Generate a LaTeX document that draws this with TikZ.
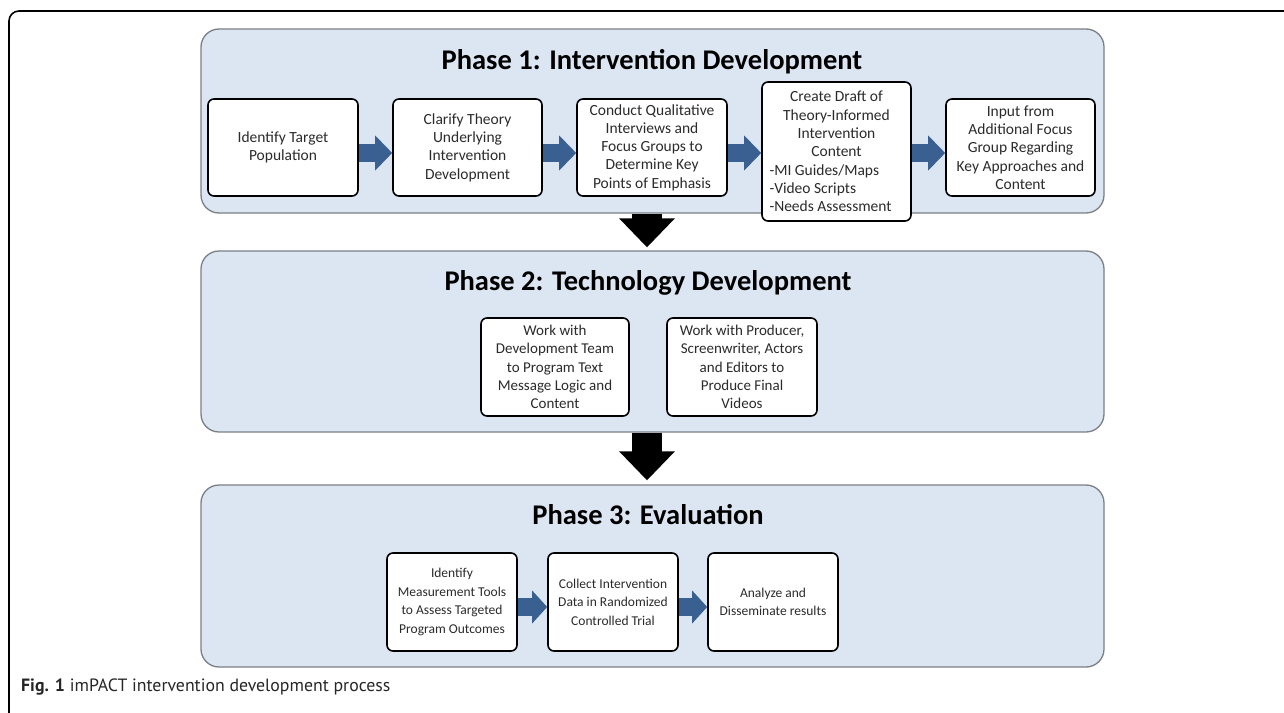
\documentclass[tikz,border=0pt]{standalone}
\usepackage{fontspec}
\setmainfont{Carlito}
\newfontfamily\capfont{PT Sans}
\usetikzlibrary{arrows.meta}
\definecolor{panelfill}{HTML}{DCE6F2}
\definecolor{panelline}{HTML}{7A7F86}
\definecolor{flowblue}{HTML}{3A6091}
\definecolor{boxtext}{HTML}{2B2B2B}
\begin{document}
\begin{tikzpicture}[x=1pt,y=-1pt,
  panel/.style={draw=panelline, line width=1.3pt, fill=panelfill, rounded corners=18pt,
    minimum width=903pt, inner sep=0pt},
  ptitle/.style={font=\fontsize{28.5}{32}\selectfont\bfseries, text=black, inner sep=0pt},
  stepbox/.style={draw=black, line width=1.6pt, fill=white, rounded corners=6pt,
    align=center, text=boxtext, font=\fontsize{15.5}{18.3}\selectfont, inner sep=2pt},
  flow/.style={draw=flowblue, line width=18pt, -{Triangle[length=17pt,width=34pt]}},
  down/.style={draw=black, line width=30pt, -{Triangle[length=29pt,width=54pt]}}
]
\useasboundingbox (0,0) rectangle (1284,712);

% outer figure frame, open to the right and bottom
\draw[line width=1.6pt, rounded corners=10pt] (9,716) -- (9,11) -- (1290,11);

% phase panels
\node[panel, minimum height=184pt] (p1) at (652.5,121) {};
\node[panel, minimum height=181pt] (p2) at (652.5,341.5) {};
\node[panel, minimum height=182pt] (p3) at (652.5,576) {};

\node[ptitle] (t1) at (652,62) {Phase 1: Intervention Development};
\node[ptitle] (t2) at (648,283) {Phase 2: Technology Development};
\node[ptitle] (t3) at (648,515) {Phase 3: Evaluation};

% phase 1 steps
\node[stepbox, minimum width=150pt, minimum height=97pt] (a1) at (283,147.5)
  {Identify Target\\Population};
\node[stepbox, minimum width=149pt, minimum height=97pt] (a2) at (467.5,147.5)
  {Clarify Theory\\Underlying\\Intervention\\Development};
\node[stepbox, minimum width=150pt, minimum height=97pt] (a3) at (652,147.5)
  {Conduct Qualitative\\Interviews and\\Focus Groups to\\Determine Key\\Points of Emphasis};
\node[stepbox, minimum width=149pt, minimum height=139pt, align=left] (a4) at (836.5,151.5)
  {\makebox[134pt]{Create Draft of}\\\makebox[134pt]{Theory-Informed}\\
   \makebox[134pt]{Intervention}\\\makebox[134pt]{Content}\\
   -MI Guides/Maps\\-Video Scripts\\-Needs Assessment};
\node[stepbox, minimum width=149pt, minimum height=97pt] (a5) at (1020.5,147.5)
  {Input from\\Additional Focus\\Group Regarding\\Key Approaches and\\Content};

% phase 2 steps
\node[stepbox, font=\fontsize{15}{18.3}\selectfont, minimum width=148pt, minimum height=98pt] (b1) at (555,367)
  {Work with\\Development Team\\to Program Text\\Message Logic and\\Content};
\node[stepbox, font=\fontsize{15}{18.3}\selectfont, minimum width=150pt, minimum height=98pt] (b2) at (742,367)
  {Work with Producer,\\Screenwriter, Actors\\and Editors to\\Produce Final\\Videos};

% phase 3 steps
\tikzset{evalbox/.style={stepbox, font=\fontsize{13.5}{18.6}\selectfont,
  minimum width=130pt, minimum height=98pt}}
\node[evalbox] (c1) at (452,602)
  {Identify\\Measurement Tools\\to Assess Targeted\\Program Outcomes};
\node[evalbox] (c2) at (613,602)
  {Collect Intervention\\Data in Randomized\\Controlled Trial};
\node[evalbox] (c3) at (773,602)
  {Analyze and\\Disseminate results};

% flow within phases
\draw[flow] ([yshift=-5.5pt]a1.east) -- ([yshift=-5.5pt]a2.west);
\draw[flow] ([yshift=-5.5pt]a2.east) -- ([yshift=-5.5pt]a3.west);
\draw[flow] ([yshift=-5.5pt]a3.east) -- ([yshift=-5.5pt]a4.west |- a3.east);
\draw[flow] ([yshift=-5.5pt]a4.east |- a5.west) -- ([yshift=-5.5pt]a5.west);
\draw[flow, -{Triangle[length=15pt,width=32pt]}] ([yshift=-5pt]c1.east) -- ([yshift=-5pt]c2.west);
\draw[flow, -{Triangle[length=15pt,width=32pt]}] ([yshift=-5pt]c2.east) -- ([yshift=-5pt]c3.west);

% flow between phases
\draw[down, shorten >=3pt] ([xshift=-5.5pt]p1.south) -- ([xshift=-5.5pt]p2.north);
\draw[down, shorten >=4pt] ([xshift=-5.5pt]p2.south) -- ([xshift=-5.5pt]p3.north);

% caption
\node[anchor=west, inner sep=0pt, font=\capfont\fontsize{17.8}{21}\selectfont, text=black!85] (cap) at (21,687)
  {\textbf{Fig. 1} imPACT intervention development process};
\end{tikzpicture}
\end{document}
